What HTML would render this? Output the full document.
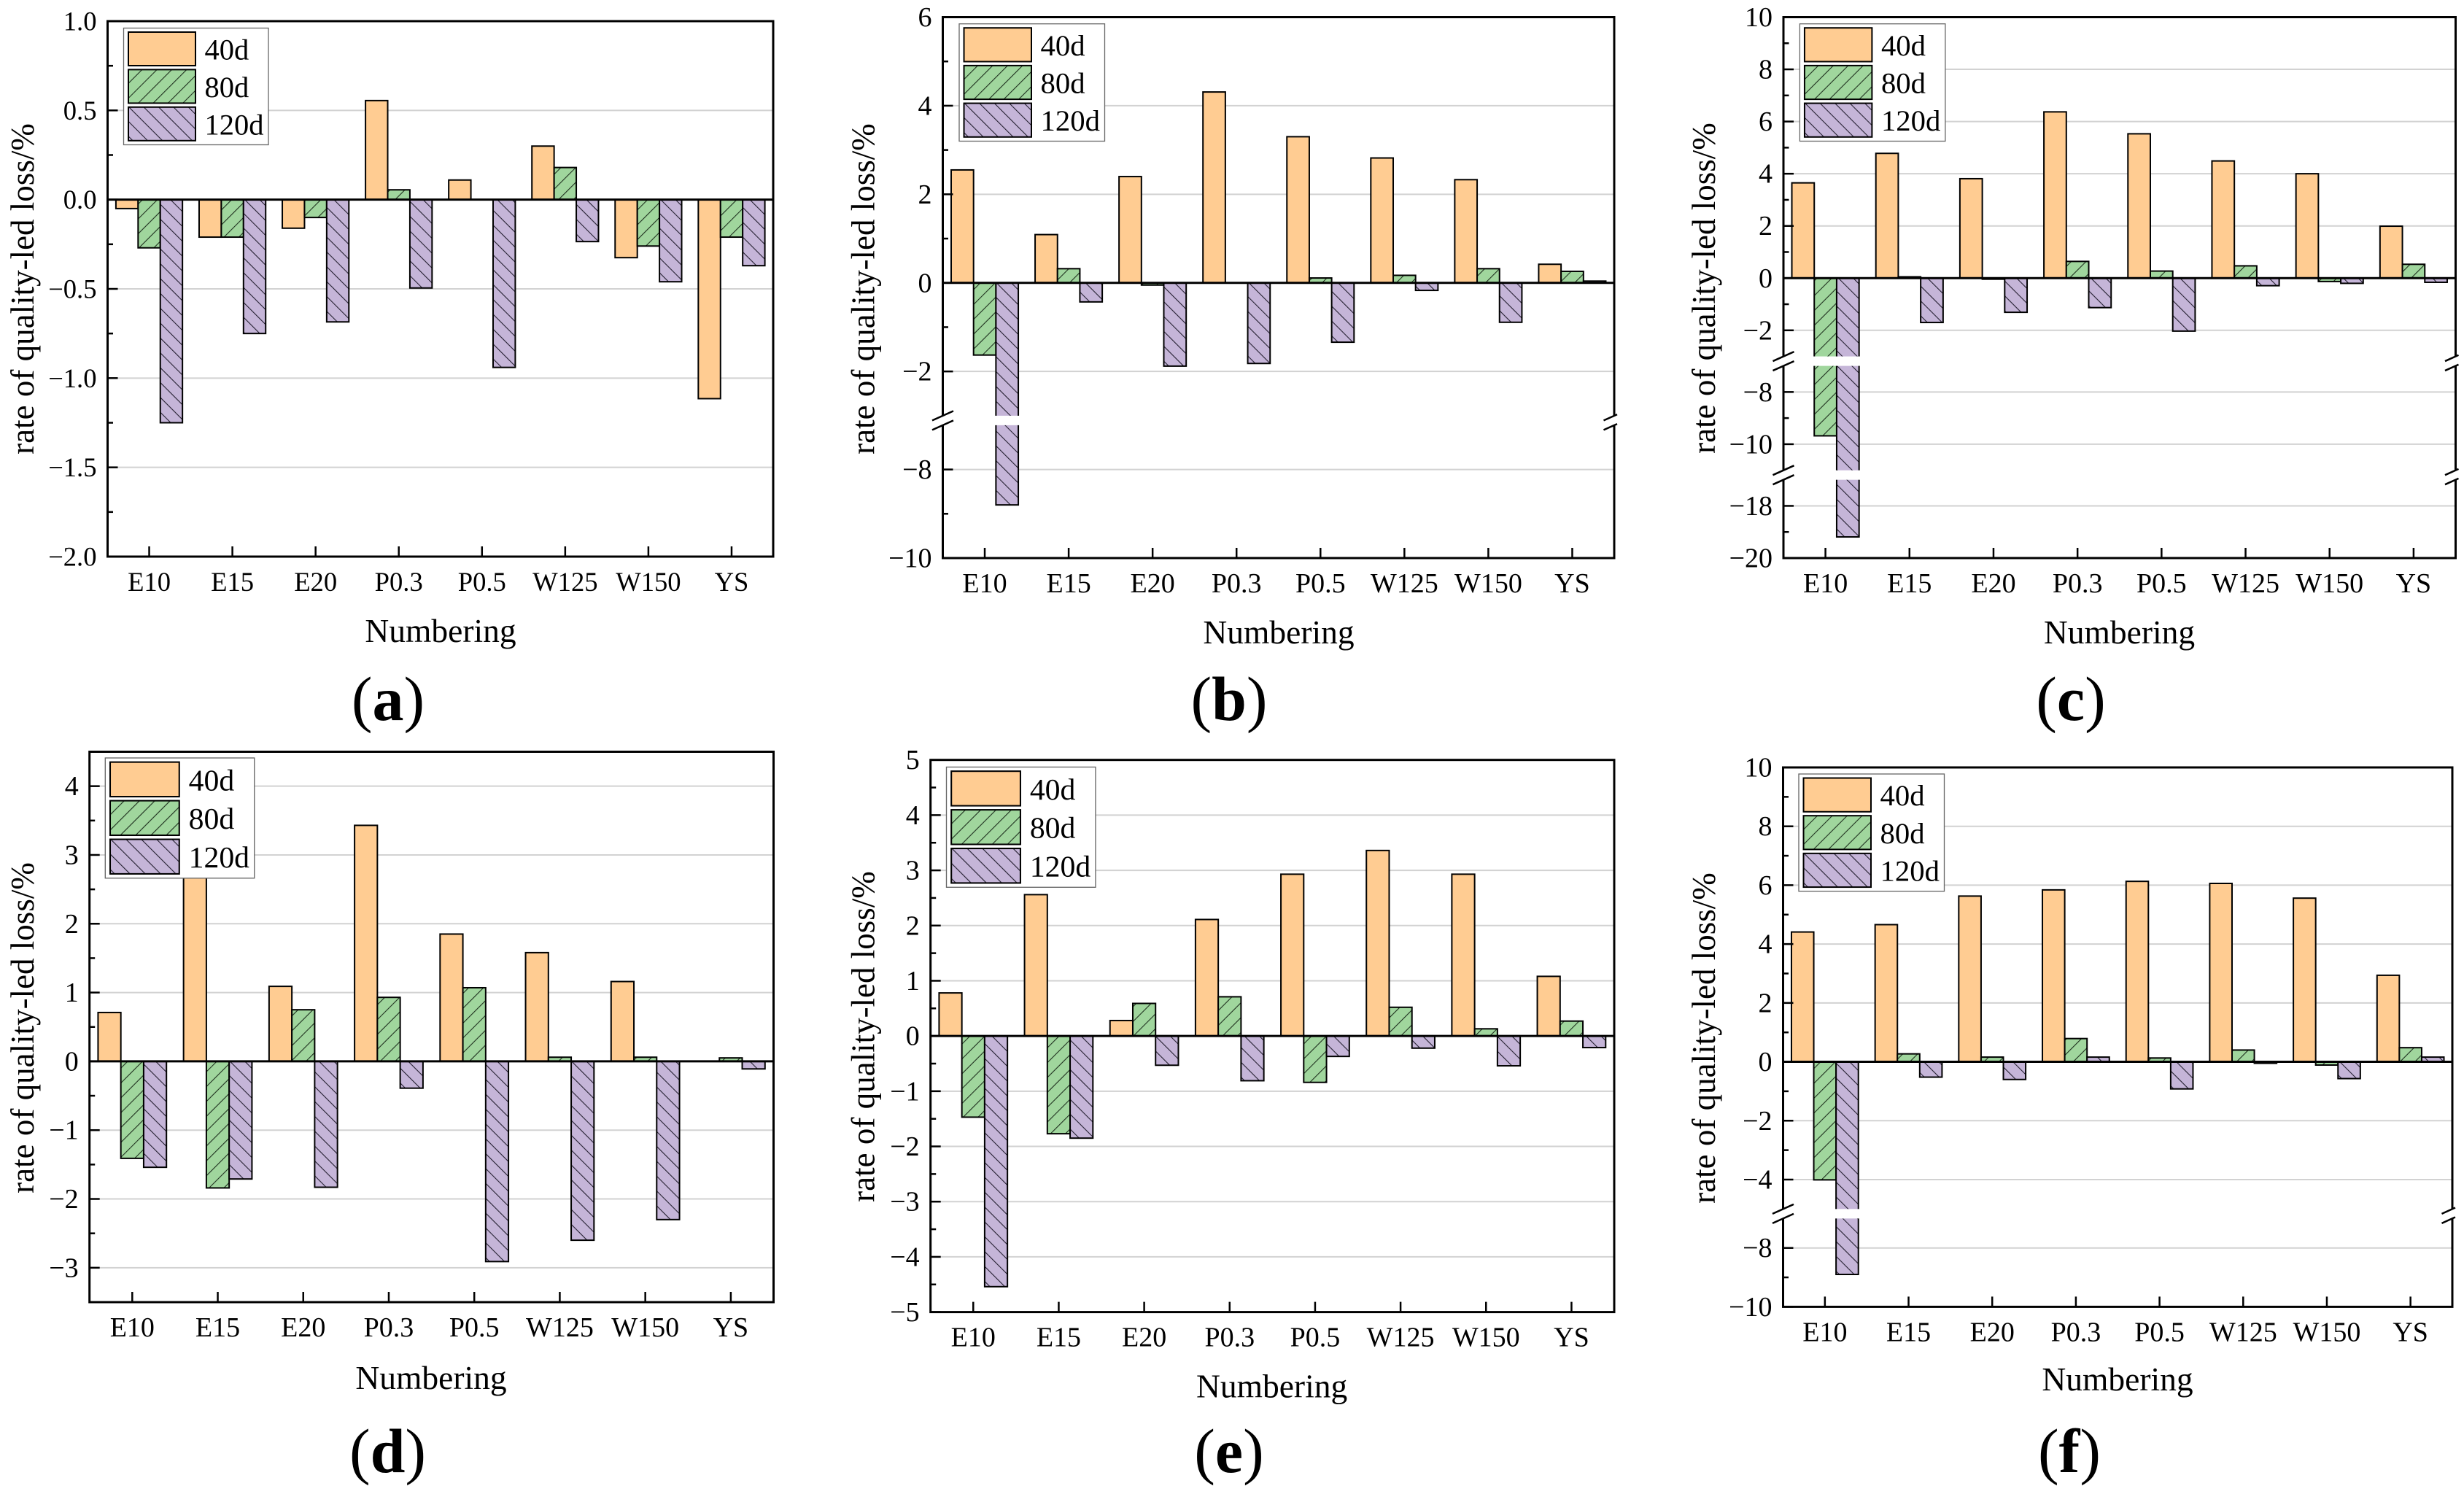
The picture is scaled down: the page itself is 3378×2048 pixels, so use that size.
<!DOCTYPE html>
<html lang="en">
<head>
<meta charset="utf-8">
<title>Rate of quality-led loss panels</title>
<style>
html,body{margin:0;padding:0;background:#fff;}
svg{display:block;}
text{font-family:"Liberation Serif","Times New Roman",serif;fill:#000;}
</style>
</head>
<body>
<svg id="figure" xmlns="http://www.w3.org/2000/svg" width="3378" height="2048" viewBox="0 0 3378 2048">
  <defs>
    <pattern id="hatch-rise" patternUnits="userSpaceOnUse" width="14.4" height="14.4" patternTransform="rotate(45)">
      <rect width="14.4" height="14.4" fill="#A0D69D"/>
      <line x1="0.55" y1="0" x2="0.55" y2="14.4" stroke="#1a2a1a" stroke-width="1.05"/>
    </pattern>
    <pattern id="hatch-fall" patternUnits="userSpaceOnUse" width="14.4" height="14.4" patternTransform="rotate(-45)">
      <rect width="14.4" height="14.4" fill="#C5B5D8"/>
      <line x1="0.55" y1="0" x2="0.55" y2="14.4" stroke="#1e1a2a" stroke-width="1.05"/>
    </pattern>
  </defs>
  <rect x="0" y="0" width="3378" height="2048" fill="#fff"/>
</svg>
<script>
// ---- shared chart values ----
const categories = ['E10', 'E15', 'E20', 'P0.3', 'P0.5', 'W125', 'W150', 'YS'];
const seriesNames = ['40d', '80d', '120d'];
const yAxisTitle = 'rate of quality-led loss/%';
const xAxisTitle = 'Numbering';

// ---- panel (a) ----
const a40d = [-0.05, -0.21, -0.16, 0.555, 0.11, 0.30, -0.325, -1.115];
const a80d = [-0.27, -0.21, -0.10, 0.055, 0, 0.18, -0.26, -0.21];
const a120d = [-1.25, -0.75, -0.685, -0.495, -0.94, -0.235, -0.46, -0.37];
const aMajorTicks = [1, 0.5, 0, -0.5, -1, -1.5, -2];
const aTickLabels = ['1.0', '0.5', '0.0', '\u22120.5', '\u22121.0', '\u22121.5', '\u22122.0'];
const aMinorTicks = [0.75, 0.25, -0.25, -0.75, -1.25, -1.75];
const aDomains = [[1, -2]];

// ---- panel (b) ----
const b40d = [2.55, 1.09, 2.40, 4.31, 3.30, 2.82, 2.33, 0.42];
const b80d = [-1.63, 0.32, -0.05, 0, 0.11, 0.17, 0.32, 0.26];
const b120d = [-8.8, -0.43, -1.88, -1.82, -1.34, -0.17, -0.89, 0.04];
const bMajorTicks = [6, 4, 2, 0, -2, -8, -10];
const bTickLabels = ['6', '4', '2', '0', '\u22122', '\u22128', '\u221210'];
const bMinorTicks = [5, 3, 1, -1, -9];
const bDomains = [[6, -3], [-7, -10]];

// ---- panel (c) ----
const c40d = [3.65, 4.78, 3.81, 6.37, 5.53, 4.49, 4.0, 1.99];
const c80d = [-9.68, 0.05, -0.04, 0.64, 0.27, 0.47, -0.13, 0.53];
const c120d = [-19.19, -1.70, -1.31, -1.13, -2.03, -0.29, -0.2, -0.16];
const cMajorTicks = [10, 8, 6, 4, 2, 0, -2, -8, -10, -18, -20];
const cTickLabels = ['10', '8', '6', '4', '2', '0', '\u22122', '\u22128', '\u221210', '\u221218', '\u221220'];
const cMinorTicks = [9, 7, 5, 3, 1, -1, -9, -19];
const cDomains = [[10, -3], [-7, -11], [-17, -20]];

// ---- panel (d) ----
const d40d = [0.71, 3.0, 1.09, 3.43, 1.85, 1.58, 1.16, 0];
const d80d = [-1.41, -1.84, 0.75, 0.93, 1.07, 0.06, 0.06, 0.05];
const d120d = [-1.54, -1.71, -1.83, -0.39, -2.91, -2.60, -2.30, -0.11];
const dMajorTicks = [4, 3, 2, 1, 0, -1, -2, -3];
const dTickLabels = ['4', '3', '2', '1', '0', '\u22121', '\u22122', '\u22123'];
const dMinorTicks = [3.5, 2.5, 1.5, 0.5, -0.5, -1.5, -2.5];
const dDomains = [[4.5, -3.5]];

// ---- panel (e) ----
const e40d = [0.78, 2.56, 0.28, 2.11, 2.93, 3.36, 2.93, 1.08];
const e80d = [-1.47, -1.77, 0.59, 0.71, -0.84, 0.52, 0.13, 0.27];
const e120d = [-4.54, -1.85, -0.53, -0.81, -0.37, -0.22, -0.54, -0.21];
const eMajorTicks = [5, 4, 3, 2, 1, 0, -1, -2, -3, -4, -5];
const eTickLabels = ['5', '4', '3', '2', '1', '0', '\u22121', '\u22122', '\u22123', '\u22124', '\u22125'];
const eMinorTicks = [4.5, 3.5, 2.5, 1.5, 0.5, -0.5, -1.5, -2.5, -3.5, -4.5];
const eDomains = [[5, -5]];

// ---- panel (f) ----
const f40d = [4.41, 4.66, 5.63, 5.84, 6.13, 6.06, 5.56, 2.94];
const f80d = [-4.01, 0.27, 0.16, 0.79, 0.13, 0.40, -0.11, 0.48];
const f120d = [-8.9, -0.52, -0.60, 0.16, -0.92, -0.05, -0.57, 0.16];
const fMajorTicks = [10, 8, 6, 4, 2, 0, -2, -4, -8, -10];
const fTickLabels = ['10', '8', '6', '4', '2', '0', '\u22122', '\u22124', '\u22128', '\u221210'];
const fMinorTicks = [9, 7, 5, 3, 1, -1, -3, -9];
const fDomains = [[10, -5], [-7, -10]];

// ---- layout (frame geometry only, no data) ----
const frames = {
  a: {left: 147.5, right: 1060, top: 29, bottom: 763, legendX: 169.5, legendY: 38.5, legendScale: 1, tickFont: 36.6,
      titleX: 46, titleY: 396, xTitleX: 604, xTitleY: 880, tagX: 532, tagY: 987},
  b: {left: 1292.5, right: 2213, top: 23.5, bottom: 765, legendX: 1315, legendY: 32.7, legendScale: 1.005, tickFont: 38,
      titleX: 1198.5, titleY: 396, xTitleX: 1753, xTitleY: 882, tagX: 1685, tagY: 987},
  c: {left: 2445, right: 3366.5, top: 23.5, bottom: 765, legendX: 2467.4, legendY: 32.7, legendScale: 1.005, tickFont: 38,
      titleX: 2351, titleY: 395, xTitleX: 2905.5, xTitleY: 882, tagX: 2839, tagY: 987},
  d: {left: 122.7, right: 1060.5, top: 1030.5, bottom: 1785, legendX: 144.3, legendY: 1039, legendScale: 1.03, tickFont: 38,
      titleX: 46, titleY: 1409, xTitleX: 591, xTitleY: 1904, tagX: 531.5, tagY: 2018},
  e: {left: 1275.7, right: 2213, top: 1041.7, bottom: 1798.6, legendX: 1297.5, legendY: 1051.5, legendScale: 1.03, tickFont: 38,
      titleX: 1198.5, titleY: 1421, xTitleX: 1743.6, xTitleY: 1915.5, tagX: 1685, tagY: 2018},
  f: {left: 2444.5, right: 3362, top: 1052, bottom: 1791.4, legendX: 2466, legendY: 1061, legendScale: 1.005, tickFont: 38,
      titleX: 2351, titleY: 1423, xTitleX: 2903, xTitleY: 1906, tagX: 2837, tagY: 2018}
};
const SVGNS = 'http://www.w3.org/2000/svg';
const figure = document.getElementById('figure');
const seriesFills = ['#FFCC92', 'url(#hatch-rise)', 'url(#hatch-fall)'];
const BREAK_GAP = 13;

function make(tag, attrs, parent) {
  const node = document.createElementNS(SVGNS, tag);
  for (const key in attrs) node.setAttribute(key, attrs[key]);
  parent.appendChild(node);
  return node;
}

// Piecewise-linear y axis honouring broken ranges.
function makeYScale(frame, domains) {
  const units = domains.reduce((sum, d) => sum + (d[0] - d[1]), 0);
  const gaps = BREAK_GAP * (domains.length - 1);
  const pxPerUnit = (frame.bottom - frame.top - gaps) / units;
  return function (v) {
    let y = frame.top;
    for (let i = 0; i < domains.length; i++) {
      const hi = domains[i][0], lo = domains[i][1];
      if (v >= lo) return y + (Math.min(hi, v) === hi ? 0 : (hi - v) * pxPerUnit);
      y += (hi - lo) * pxPerUnit + BREAK_GAP;
    }
    return frame.bottom;
  };
}
function makeXBand(frame, count) {
  const band = (frame.right - frame.left) / count;
  return function (i) { return frame.left + (i + 0.5) * band; };
}

function drawPanel(letter, series, majorTicks, tickLabels, minorTicks, domains) {
  const frame = frames[letter];
  const yScale = makeYScale(frame, domains);
  const xCenter = makeXBand(frame, categories.length);
  const barW = (frame.right - frame.left) / categories.length * 0.8 / series.length;

  const panel = make('g', {}, figure);
  
  

  // gridlines at major ticks
  majorTicks.forEach(function (t) {
    if (t === 0 || t === domains[0][0]) return;
    const y = yScale(t);
    const grid = make('line', {x1: frame.left, x2: frame.right, y1: y, y2: y, stroke: '#d2d2d2', 'stroke-width': 2}, panel);
    
    
  });

  // bars
  const zeroY = yScale(0);
  series.forEach(function (values, s) {
    values.forEach(function (v, i) {
      const y = yScale(v);
      const x = xCenter(i) + (s - series.length / 2) * barW;
      const bar = make('rect', {
        x: x, y: Math.min(y, zeroY), width: barW, height: Math.abs(y - zeroY),
        fill: seriesFills[s], stroke: '#000', 'stroke-width': 2
      }, panel);
      
      
    });
  });

  // zero line
  const zero = make('line', {x1: frame.left, x2: frame.right, y1: zeroY, y2: zeroY, stroke: '#000', 'stroke-width': 3}, panel);
  
  

  // frame
  const box = make('rect', {x: frame.left, y: frame.top, width: frame.right - frame.left, height: frame.bottom - frame.top, fill: 'none', stroke: '#000', 'stroke-width': 3}, panel);
  
  

  // y ticks and labels
  majorTicks.forEach(function (t, i) {
    const y = yScale(t);
    const tick = make('line', {x1: frame.left, x2: frame.left + 14, y1: y, y2: y, stroke: '#000', 'stroke-width': 2.5}, panel);
    
    
    const label = make('text', {x: frame.left - 15, y: y + 12.5, 'text-anchor': 'end', 'font-size': frame.tickFont}, panel);
    label.textContent = tickLabels[i];
    
    
  });
  minorTicks.forEach(function (t) {
    const y = yScale(t);
    const tick = make('line', {x1: frame.left, x2: frame.left + 7.5, y1: y, y2: y, stroke: '#000', 'stroke-width': 2.5}, panel);
    
    
  });

  // x ticks and labels
  categories.forEach(function (c, i) {
    const x = xCenter(i);
    const tick = make('line', {x1: x, x2: x, y1: frame.bottom, y2: frame.bottom - 14, stroke: '#000', 'stroke-width': 2.5}, panel);
    
    
    const label = make('text', {x: x, y: frame.bottom + 47, 'text-anchor': 'middle', 'font-size': frame.tickFont}, panel);
    label.textContent = c;
    
    
  });

  // axis breaks
  for (let b = 0; b < domains.length - 1; b++) {
    const upperEnd = yScale(domains[b][1]);
    const lowerStart = upperEnd + BREAK_GAP;
    const gap = make('rect', {x: frame.left - 2.5, y: upperEnd, width: frame.right - frame.left + 5, height: BREAK_GAP, fill: '#fff'}, panel);
    
    
    [[frame.left, 14.5], [frame.right, 4]].forEach(function (side) {
      [upperEnd, lowerStart].forEach(function (ly) {
        const slash = make('line', {x1: side[0] - 14.5, x2: side[0] + side[1], y1: ly + 6.5, y2: ly - side[1] * 0.448, stroke: '#000', 'stroke-width': 2.5}, panel);
        
        
      });
    });
  }

  // axis titles
  const yTitle = make('text', {
    x: frame.titleX, y: frame.titleY, 'text-anchor': 'middle', 'font-size': 45,
    transform: 'rotate(-90 ' + frame.titleX + ' ' + frame.titleY + ')'
  }, panel);
  yTitle.textContent = yAxisTitle;
  
  

  const xTitle = make('text', {x: frame.xTitleX, y: frame.xTitleY, 'text-anchor': 'middle', 'font-size': 45.5}, panel);
  xTitle.textContent = xAxisTitle;
  
  

  // legend
  const legend = make('g', {transform: 'translate(' + frame.legendX + ' ' + frame.legendY + ') scale(' + frame.legendScale + ')'}, panel);
  
  
  const legendBox = make('rect', {x: 0, y: 0, width: 198.5, height: 160, fill: '#fff', stroke: '#666', 'stroke-width': 1.3}, legend);
  
  
  seriesNames.forEach(function (name, s) {
    const swatch = make('rect', {x: 6.5, y: 5.5 + s * 51.4, width: 92, height: 46, fill: seriesFills[s], stroke: '#000', 'stroke-width': 2}, legend);
    
    
    const entry = make('text', {x: 111, y: 43 + s * 51.4, 'font-size': 40.5}, legend);
    entry.textContent = name;
    
    
  });

  // panel tag
  const tag = make('text', {x: frame.tagX, y: frame.tagY, 'text-anchor': 'middle', 'font-size': 86}, panel);
  
  
  const open = make('tspan', {}, tag);
  open.textContent = '(';
  const mid = make('tspan', {'font-weight': 'bold'}, tag);
  mid.textContent = letter;
  const close = make('tspan', {}, tag);
  close.textContent = ')';
}

drawPanel('a', [a40d, a80d, a120d], aMajorTicks, aTickLabels, aMinorTicks, aDomains);
drawPanel('b', [b40d, b80d, b120d], bMajorTicks, bTickLabels, bMinorTicks, bDomains);
drawPanel('c', [c40d, c80d, c120d], cMajorTicks, cTickLabels, cMinorTicks, cDomains);
drawPanel('d', [d40d, d80d, d120d], dMajorTicks, dTickLabels, dMinorTicks, dDomains);
drawPanel('e', [e40d, e80d, e120d], eMajorTicks, eTickLabels, eMinorTicks, eDomains);
drawPanel('f', [f40d, f80d, f120d], fMajorTicks, fTickLabels, fMinorTicks, fDomains);
</script>
</body>
</html>
